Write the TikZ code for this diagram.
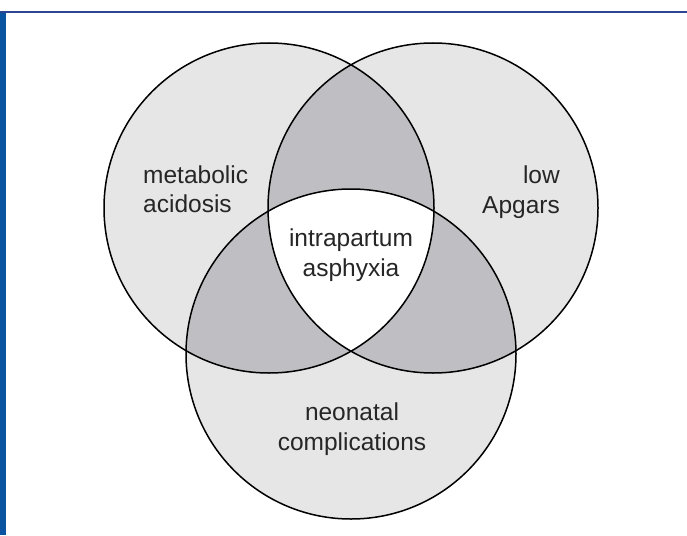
\documentclass[tikz,border=0pt]{standalone}
\usepackage{fontspec}
\setmainfont{Liberation Sans}
\definecolor{barblue}{HTML}{0A53A0}
\definecolor{ruleblue}{HTML}{2D4592}
\definecolor{setgray}{HTML}{E6E6E6}
\definecolor{pairgray}{HTML}{BFBFC3}
\begin{document}
\begin{tikzpicture}[x=1pt,y=-1pt,
  ring/.style={draw=black,line width=1.5pt},
  lbl/.style={inner sep=0pt,text=black!85,font=\fontsize{24.5}{29.5}\selectfont}]
\def\rad{165pt}
\useasboundingbox (0,0) rectangle (687,535);
\fill[white] (0,0) rectangle (687,535);
% page frame: blue side bar and top rule
\fill[barblue] (0,11) rectangle (6,535);
\fill[ruleblue] (0,11) rectangle (687,13.5);
% circle centres
\coordinate (acid) at (269,208);
\coordinate (apgar) at (433,208);
\coordinate (neo) at (351,354);
% single sets
\fill[setgray] (acid) circle[radius=\rad];
\fill[setgray] (apgar) circle[radius=\rad];
\fill[setgray] (neo) circle[radius=\rad];
% pairwise overlaps
\begin{scope}
  \clip (acid) circle[radius=\rad];
  \fill[pairgray] (apgar) circle[radius=\rad];
  \fill[pairgray] (neo) circle[radius=\rad];
\end{scope}
\begin{scope}
  \clip (apgar) circle[radius=\rad];
  \fill[pairgray] (neo) circle[radius=\rad];
\end{scope}
% triple overlap
\begin{scope}
  \clip (acid) circle[radius=\rad];
  \clip (apgar) circle[radius=\rad];
  \fill[white] (neo) circle[radius=\rad];
\end{scope}
% outlines
\draw[ring] (acid) circle[radius=\rad];
\draw[ring] (apgar) circle[radius=\rad];
\draw[ring] (neo) circle[radius=\rad];
% labels
\node[lbl,anchor=west,align=left] (lacid) at (143,189) {metabolic\\acidosis};
\node[lbl,anchor=east,align=right] (lapgar) at (560,192) {low\\Apgars};
\node[lbl,align=center] (lcore) at (351,255) {intrapartum\\asphyxia};
\node[lbl,align=center] (lneo) at (352,429) {neonatal\\complications};
\end{tikzpicture}
\end{document}
